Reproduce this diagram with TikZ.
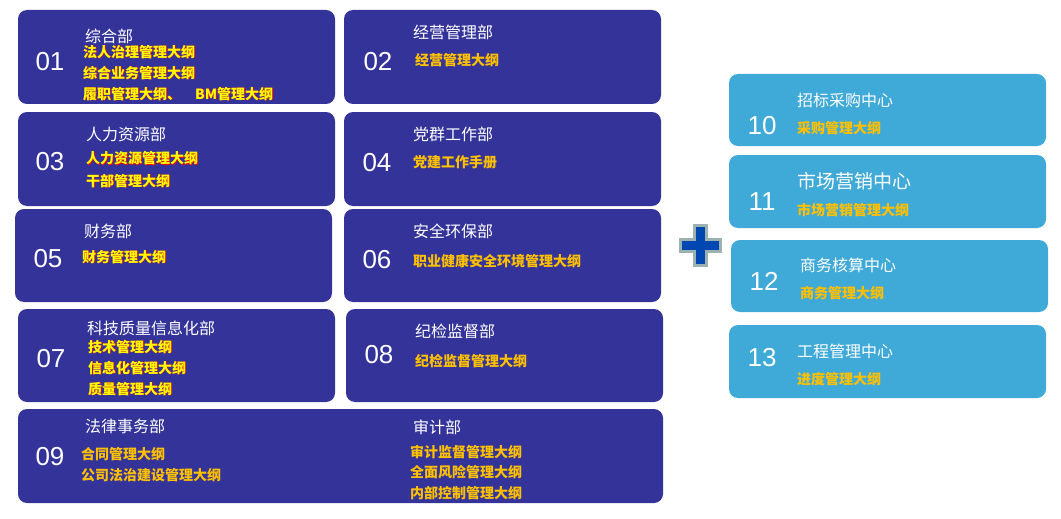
\documentclass[tikz,border=0pt]{standalone}
\usepackage{fontspec}
\setmainfont{Liberation Sans}
\newfontfamily\cjk{Noto Sans CJK SC}
\definecolor{dkb}{HTML}{34339A}
\definecolor{ltb}{HTML}{3FA9D8}
\definecolor{gold}{HTML}{FFC000}
\definecolor{ylw}{HTML}{FFFF00}
\newcommand{\ry}[1]{\rlap{\kern0.7pt\raisebox{-0.7pt}{\color{red}#1}}\color{ylw}#1}
\begin{document}
\begin{tikzpicture}[x=1pt,y=-1pt,
  dbox/.style={fill=dkb,rounded corners=9pt},
  lbox/.style={fill=ltb,rounded corners=9pt},
  num/.style={text=white,font=\fontsize{26}{26}\selectfont},
  ttl/.style={anchor=west,text=white,font=\cjk\fontsize{16}{16}\selectfont,inner sep=0},
  itm/.style={anchor=west,text=gold,font=\cjk\bfseries\fontsize{14}{14}\selectfont,inner sep=0},
  ritm/.style={anchor=west,font=\cjk\bfseries\fontsize{14}{14}\selectfont,inner sep=0}]
\useasboundingbox (0,0) rectangle (1061,519);
\fill[dbox] (18,10) rectangle (335,104);
\fill[dbox] (344,10) rectangle (661,104);
\fill[dbox] (18,112) rectangle (335,206);
\fill[dbox] (344,112) rectangle (661,206);
\fill[dbox] (15,209) rectangle (332,302);
\fill[dbox] (344,209) rectangle (661,302);
\fill[dbox] (18,309) rectangle (335,402);
\fill[dbox] (346,309) rectangle (663,402);
\fill[dbox] (18,409) rectangle (663,503);
\fill[lbox] (729,74) rectangle (1046,146);
\fill[lbox] (729,155) rectangle (1046,228);
\fill[lbox] (731,240) rectangle (1048,312);
\fill[lbox] (729,325) rectangle (1046,398);
% plus
\fill[draw=gray!70!teal!60,line width=3pt,fill=blue!60!cyan!70!black] (694,225)--(706,225)--(706,239)--(720,239)--(720,251)--(706,251)--(706,265)--(694,265)--(694,251)--(680,251)--(680,239)--(694,239)--cycle;
% 01
\node[num] (n01) at (50,62) {01};
\node[ttl] (t01) at (85,36) {综合部};
\node[ritm] (a01) at (83,52) {\ry{法人治理管理大纲}};
\node[ritm] (b01) at (83,73) {\ry{综合业务管理大纲}};
\node[ritm] (c01) at (83,94) {\ry{履职管理大纲、\quad BM管理大纲}};
% 02
\node[num] (n02) at (378,62) {02};
\node[ttl] (t02) at (413,32) {经营管理部};
\node[itm] (a02) at (415,60) {经营管理大纲};
% 03
\node[num] (n03) at (50,162) {03};
\node[ttl] (t03) at (86,134) {人力资源部};
\node[ritm] (a03) at (86,159) {\ry{人力资源管理大纲}};
\node[ritm] (b03) at (86,181) {\ry{干部管理大纲}};
% 04
\node[num] (n04) at (377,163) {04};
\node[ttl] (t04) at (413,134) {党群工作部};
\node[itm] (a04) at (413,162) {党建工作手册};
% 05
\node[num] (n05) at (48,259) {05};
\node[ttl] (t05) at (84,231) {财务部};
\node[ritm] (a05) at (82,257) {\ry{财务管理大纲}};
% 06
\node[num] (n06) at (377,260) {06};
\node[ttl] (t06) at (413,231) {安全环保部};
\node[itm] (a06) at (413,261) {职业健康安全环境管理大纲};
% 07
\node[num] (n07) at (51,359) {07};
\node[ttl] (t07) at (87,328) {科技质量信息化部};
\node[ritm] (a07) at (88,347) {\ry{技术管理大纲}};
\node[ritm] (b07) at (88,368) {\ry{信息化管理大纲}};
\node[ritm] (c07) at (88,389) {\ry{质量管理大纲}};
% 08
\node[num] (n08) at (379,355) {08};
\node[ttl] (t08) at (415,331) {纪检监督部};
\node[itm] (a08) at (415,361) {纪检监督管理大纲};
% 09
\node[num] (n09) at (50,457) {09};
\node[ttl] (t09) at (85,426) {法律事务部};
\node[itm] (a09) at (81,454) {合同管理大纲};
\node[itm] (b09) at (81,475) {公司法治建设管理大纲};
\node[ttl] (t09b) at (413,427) {审计部};
\node[itm] (c09) at (410,452) {审计监督管理大纲};
\node[itm] (d09) at (410,472) {全面风险管理大纲};
\node[itm] (e09) at (410,493) {内部控制管理大纲};
% right
\node[num] (n10) at (762,126) {10};
\node[ttl] (t10) at (797,100) {招标采购中心};
\node[itm] (a10) at (797,128) {采购管理大纲};
\node[num] (n11) at (762,202) {11};
\node[ttl,font=\cjk\fontsize{19}{19}\selectfont] (t11) at (797,181) {市场营销中心};
\node[itm] (a11) at (797,210) {市场营销管理大纲};
\node[num] (n12) at (764,281) {12};
\node[ttl] (t12) at (800,265) {商务核算中心};
\node[itm] (a12) at (800,293) {商务管理大纲};
\node[num] (n13) at (762,358) {13};
\node[ttl] (t13) at (797,351) {工程管理中心};
\node[itm] (a13) at (797,379) {进度管理大纲};
\end{tikzpicture}
\end{document}
